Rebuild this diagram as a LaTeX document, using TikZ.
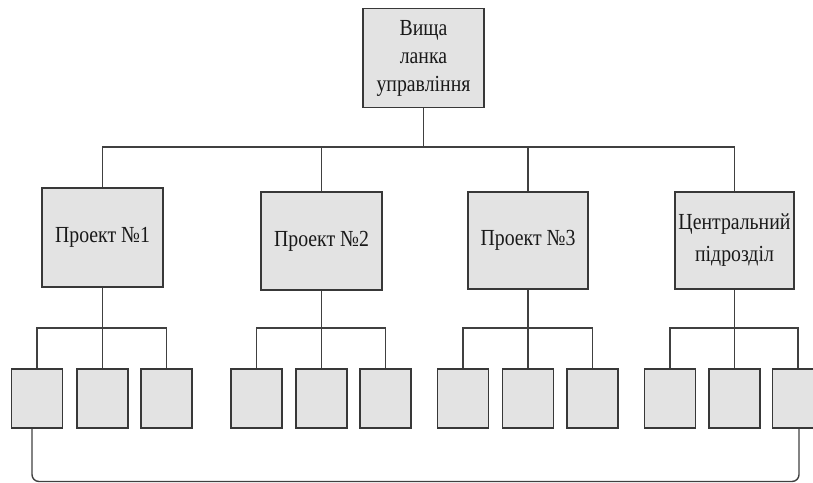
\documentclass[tikz,border=0pt]{standalone}
\usepackage{fontspec}
\setmainfont{Liberation Serif}
\newfontfamily\labelfont[FakeStretch=0.86]{Liberation Serif}
\begin{document}
\begin{tikzpicture}[x=1pt,y=-1pt,
  unit/.style={draw=black!78, fill=black!11, line width=1.5pt, inner sep=0pt,
    align=center, font=\labelfont\fontsize{23}{28}\selectfont, text=black!90},
  cell/.style={unit, minimum width=51pt, minimum height=59pt},
  link/.style={draw=black!75, line width=1.4pt}]
\useasboundingbox (0,0) rectangle (813,482);

% levels of the structure
\coordinate (bus) at (0,147);
\coordinate (sub) at (0,328);
\coordinate (base) at (0,481.5);

% head of the organisation
\node[unit, minimum width=121pt, minimum height=99pt] (top) at (423.5,58)
  {Вища\\ланка\\управління};

% project units and the central department
\node[unit, minimum width=121pt, minimum height=99pt] (p1) at (102.5,237.5) {Проект №1};
\node[unit, minimum width=121pt, minimum height=98pt] (p2) at (321.5,241) {Проект №2};
\node[unit, minimum width=120pt, minimum height=97pt] (p3) at (528,240.5) {Проект №3};
\node[unit, minimum width=119pt, minimum height=97pt,
  font=\labelfont\fontsize{23}{32}\selectfont] (p4) at (734.5,240.5) {Центральний\\підрозділ};

% lower-level cells
\foreach \g/\a/\b/\c in {1/37/102.5/166.5, 2/256.5/321.5/385.5, 3/463/528/592.5, 4/670/734.5/798}{
  \node[cell] (b\g1) at (\a,398.5) {};
  \node[cell] (b\g2) at (\b,398.5) {};
  \node[cell] (b\g3) at (\c,398.5) {};
}

% top-level bus
\draw[link] (top.south) -- (top.south |- bus);
\foreach \p in {p1,p2,p3,p4}
  \draw[link] (top.south |- bus) -| (\p.north);
\draw[link] (p1.north |- bus) -- (p4.north |- bus);

% buses from each unit to its cells
\foreach \g in {1,2,3,4}{
  \draw[link] (p\g.south) -- (b\g2.north);
  \draw[link] (b\g1.north) |- (p\g.south |- sub) -| (b\g3.north);
}

% common link along the bottom
\draw[link, rounded corners=7pt] ([xshift=-5pt]b11.south)
  -- ([xshift=-5pt]b11.south |- base) -| ([xshift=1pt]b43.south);
\end{tikzpicture}
\end{document}
